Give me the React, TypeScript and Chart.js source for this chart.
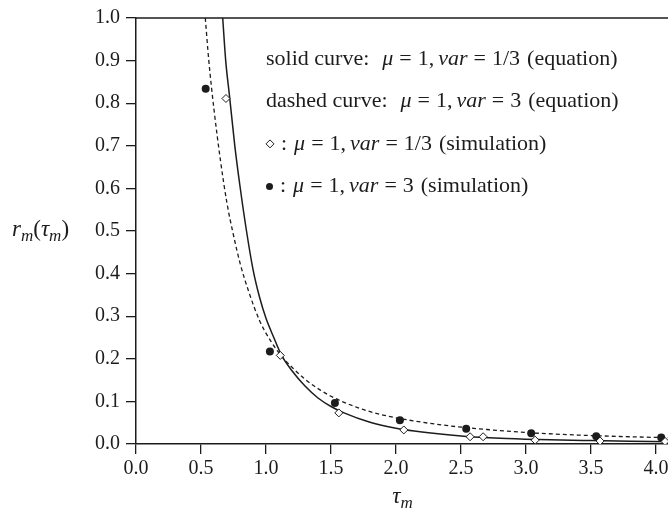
import React, { useEffect, useRef } from 'react';
import { Chart, registerables } from 'chart.js';

Chart.register(...registerables);

// ---- data ----
const SOLID_TAU = [0.667, 0.69, 0.72, 0.76, 0.8, 0.85, 0.9, 0.95, 1.0, 1.06, 1.12, 1.2, 1.3, 1.4, 1.5, 1.6, 1.8, 2.0, 2.2, 2.5, 2.8, 3.1, 3.5, 3.8, 4.3];
const SOLID_R = [1.0, 0.9, 0.815, 0.7, 0.605, 0.5, 0.41, 0.345, 0.295, 0.25, 0.208, 0.172, 0.136, 0.108, 0.088, 0.073, 0.051, 0.037, 0.028, 0.019, 0.0135, 0.0105, 0.008, 0.0065, 0.0045];

const DASHED_TAU = [0.533, 0.56, 0.6, 0.65, 0.7, 0.75, 0.8, 0.87, 0.95, 1.03, 1.12, 1.2, 1.3, 1.4, 1.5, 1.7, 1.9, 2.1, 2.4, 2.7, 3.0, 3.4, 3.8, 4.3];
const DASHED_R = [1.0, 0.9, 0.785, 0.665, 0.565, 0.49, 0.425, 0.355, 0.29, 0.245, 0.206, 0.18, 0.152, 0.13, 0.112, 0.086, 0.068, 0.056, 0.043, 0.034, 0.027, 0.021, 0.017, 0.0135];

const SIM_LOWVAR_TAU = [0.692, 1.11, 1.56, 2.06, 2.57, 2.67, 3.07, 3.57, 4.07];
const SIM_LOWVAR_R = [0.811, 0.208, 0.073, 0.033, 0.017, 0.017, 0.009, 0.007, 0.006];

const SIM_HIGHVAR_TAU = [0.536, 1.03, 1.53, 2.03, 2.54, 3.04, 3.54, 4.04];
const SIM_HIGHVAR_R = [0.834, 0.217, 0.096, 0.056, 0.036, 0.025, 0.018, 0.015];

const X_MIN = 0;
const X_MAX = 4.3;
const X_STEP = 0.5;
const Y_MIN = 0;
const Y_MAX = 1.0;
const Y_STEP = 0.1;

type Seg = [string | number, 'n' | 'i' | 'g' | 'd' | 'b' | 's'];

const LEGEND_TEXT: Seg[][] = [
  [['solid curve:', 'n'], [13, 'g'], ['μ', 'i'], [6, 'g'], ['=', 'n'], [6, 'g'], ['1,', 'n'], [4, 'g'], ['var', 'i'], [6, 'g'], ['=', 'n'], [6, 'g'], ['1/3', 'n'], [7, 'g'], ['(equation)', 'n']],
  [['dashed curve:', 'n'], [13, 'g'], ['μ', 'i'], [6, 'g'], ['=', 'n'], [6, 'g'], ['1,', 'n'], [4, 'g'], ['var', 'i'], [6, 'g'], ['=', 'n'], [6, 'g'], ['3', 'n'], [7, 'g'], ['(equation)', 'n']],
  [['', 'd'], [7, 'g'], [':', 'n'], [7, 'g'], ['μ', 'i'], [6, 'g'], ['=', 'n'], [6, 'g'], ['1,', 'n'], [4, 'g'], ['var', 'i'], [6, 'g'], ['=', 'n'], [6, 'g'], ['1/3', 'n'], [7, 'g'], ['(simulation)', 'n']],
  [['', 'b'], [7, 'g'], [':', 'n'], [7, 'g'], ['μ', 'i'], [6, 'g'], ['=', 'n'], [6, 'g'], ['1,', 'n'], [4, 'g'], ['var', 'i'], [6, 'g'], ['=', 'n'], [6, 'g'], ['3', 'n'], [7, 'g'], ['(simulation)', 'n']],
];

const Y_TITLE: Seg[] = [['r', 'i'], ['m', 's'], ['(', 'n'], ['τ', 'i'], ['m', 's'], [')', 'n']];
const X_TITLE: Seg[] = [['τ', 'i'], ['m', 's']];

const FONT = "'Liberation Serif', 'Times New Roman', serif";
const INK = '#1c1c1c';

function drawRich(ctx: CanvasRenderingContext2D, segs: Seg[], x: number, baseline: number, size: number, measureOnly = false): number {
  let cx = x;
  for (const [v, k] of segs) {
    if (k === 'g') {
      cx += v as number;
      continue;
    }
    if (k === 'd') {
      const r = 4;
      const cy = baseline - size * 0.27;
      if (!measureOnly) {
        ctx.beginPath();
        ctx.moveTo(cx + r, cy - r);
        ctx.lineTo(cx + 2 * r, cy);
        ctx.lineTo(cx + r, cy + r);
        ctx.lineTo(cx, cy);
        ctx.closePath();
        ctx.lineWidth = 1;
        ctx.strokeStyle = INK;
        ctx.stroke();
      }
      cx += 2 * r;
      continue;
    }
    if (k === 'b') {
      const r = 3.5;
      const cy = baseline - size * 0.27;
      if (!measureOnly) {
        ctx.beginPath();
        ctx.arc(cx + r, cy, r, 0, Math.PI * 2);
        ctx.fillStyle = INK;
        ctx.fill();
      }
      cx += 2 * r;
      continue;
    }
    const sz = k === 's' ? Math.round(size * 0.72) : size;
    ctx.font = `${k === 'i' || k === 's' ? 'italic ' : ''}${sz}px ${FONT}`;
    const dy = k === 's' ? size * 0.22 : 0;
    if (!measureOnly) {
      ctx.fillStyle = INK;
      ctx.fillText(String(v), cx, baseline + dy);
    }
    cx += ctx.measureText(String(v)).width;
  }
  return cx - x;
}

const annotations = {
  id: 'annotations',
  afterDraw(chart: any) {
    const { ctx, chartArea, scales } = chart;
    const xs = scales.x;
    const ys = scales.y;
    ctx.save();
    // top frame line
    ctx.beginPath();
    ctx.strokeStyle = INK;
    ctx.lineWidth = 1.5;
    ctx.moveTo(chartArea.left, chartArea.top);
    ctx.lineTo(chartArea.right, chartArea.top);
    ctx.stroke();

    ctx.textBaseline = 'alphabetic';
    ctx.textAlign = 'left';
    // legend text
    const rowsAt = [0.9, 0.8, 0.7, 0.6];
    const lx = xs.getPixelForValue(1.0);
    LEGEND_TEXT.forEach((segs, i) => {
      drawRich(ctx, segs, lx, ys.getPixelForValue(rowsAt[i]) + 4, 22);
    });
    // y title (horizontal, left)
    drawRich(ctx, Y_TITLE, 12, ys.getPixelForValue(0.5) + 5, 23);
    // x title
    const w = drawRich(ctx, X_TITLE, 0, 0, 23, true);
    drawRich(ctx, X_TITLE, xs.getPixelForValue(2.05) - w / 2, 503, 23);
    ctx.restore();
  },
};

function pts(xs: number[], ys: number[]) {
  return xs.map((x, i) => ({ x, y: ys[i] }));
}

export default function App() {
  const ref = useRef<HTMLCanvasElement | null>(null);
  useEffect(() => {
    document.body.style.margin = '0';
    const canvas = ref.current;
    if (!canvas) return;
    const fmt = (v: any) => Number(v).toFixed(1);
    const chart = new Chart(canvas, {
      type: 'scatter',
      data: {
        datasets: [
          {
            label: 'simulation var=1/3',
            data: pts(SIM_LOWVAR_TAU, SIM_LOWVAR_R),
            pointStyle: 'rectRot',
            pointRadius: 4,
            pointBackgroundColor: '#ffffff',
            pointBorderColor: INK,
            pointBorderWidth: 1,
            showLine: false,
            order: 0,
          },
          {
            label: 'simulation var=3',
            data: pts(SIM_HIGHVAR_TAU, SIM_HIGHVAR_R),
            pointStyle: 'circle',
            pointRadius: 4,
            pointBackgroundColor: INK,
            pointBorderColor: INK,
            pointBorderWidth: 0,
            showLine: false,
            order: 0,
          },
          {
            label: 'equation var=1/3',
            data: pts(SOLID_TAU, SOLID_R),
            showLine: true,
            borderColor: INK,
            borderWidth: 1.5,
            pointRadius: 0,
            cubicInterpolationMode: 'monotone',
            order: 1,
          },
          {
            label: 'equation var=3',
            data: pts(DASHED_TAU, DASHED_R),
            showLine: true,
            borderColor: INK,
            borderWidth: 1.3,
            borderDash: [4, 3],
            pointRadius: 0,
            cubicInterpolationMode: 'monotone',
            order: 1,
          },
        ],
      },
      options: {
        animation: false,
        responsive: false,
        maintainAspectRatio: false,
        events: [],
        layout: { padding: { left: 0, right: 25, top: 11, bottom: 0 } },
        plugins: { legend: { display: false }, tooltip: { enabled: false } },
        scales: {
          x: {
            type: 'linear',
            min: X_MIN,
            max: X_MAX,
            afterFit: (s: any) => {
              s.height = 65;
            },
            ticks: {
              stepSize: X_STEP,
              includeBounds: false,
              autoSkip: false,
              maxRotation: 0,
              callback: fmt,
              color: INK,
              padding: 3,
              font: { family: FONT, size: 20 },
            },
            grid: { drawOnChartArea: false, drawTicks: true, tickLength: 10, color: INK, lineWidth: 1.3 },
            border: { display: true, color: INK, width: 1.5 },
          },
          y: {
            type: 'linear',
            min: Y_MIN,
            max: Y_MAX,
            afterFit: (s: any) => {
              s.width = 136;
            },
            ticks: {
              stepSize: Y_STEP,
              includeBounds: false,
              autoSkip: false,
              callback: fmt,
              color: INK,
              padding: 6,
              font: { family: FONT, size: 20 },
            },
            grid: { drawOnChartArea: false, drawTicks: true, tickLength: 10, color: INK, lineWidth: 1.3 },
            border: { display: true, color: INK, width: 1.5 },
          },
        },
      } as any,
      plugins: [annotations],
    });
    return () => chart.destroy();
  }, []);
  return (
    <div style={{ position: 'fixed', left: 0, top: 0, width: 668, height: 509, overflow: 'hidden', background: '#fff' }}>
      <canvas ref={ref} width={720} height={509} style={{ width: 720, height: 509, display: 'block' }} />
    </div>
  );
}
